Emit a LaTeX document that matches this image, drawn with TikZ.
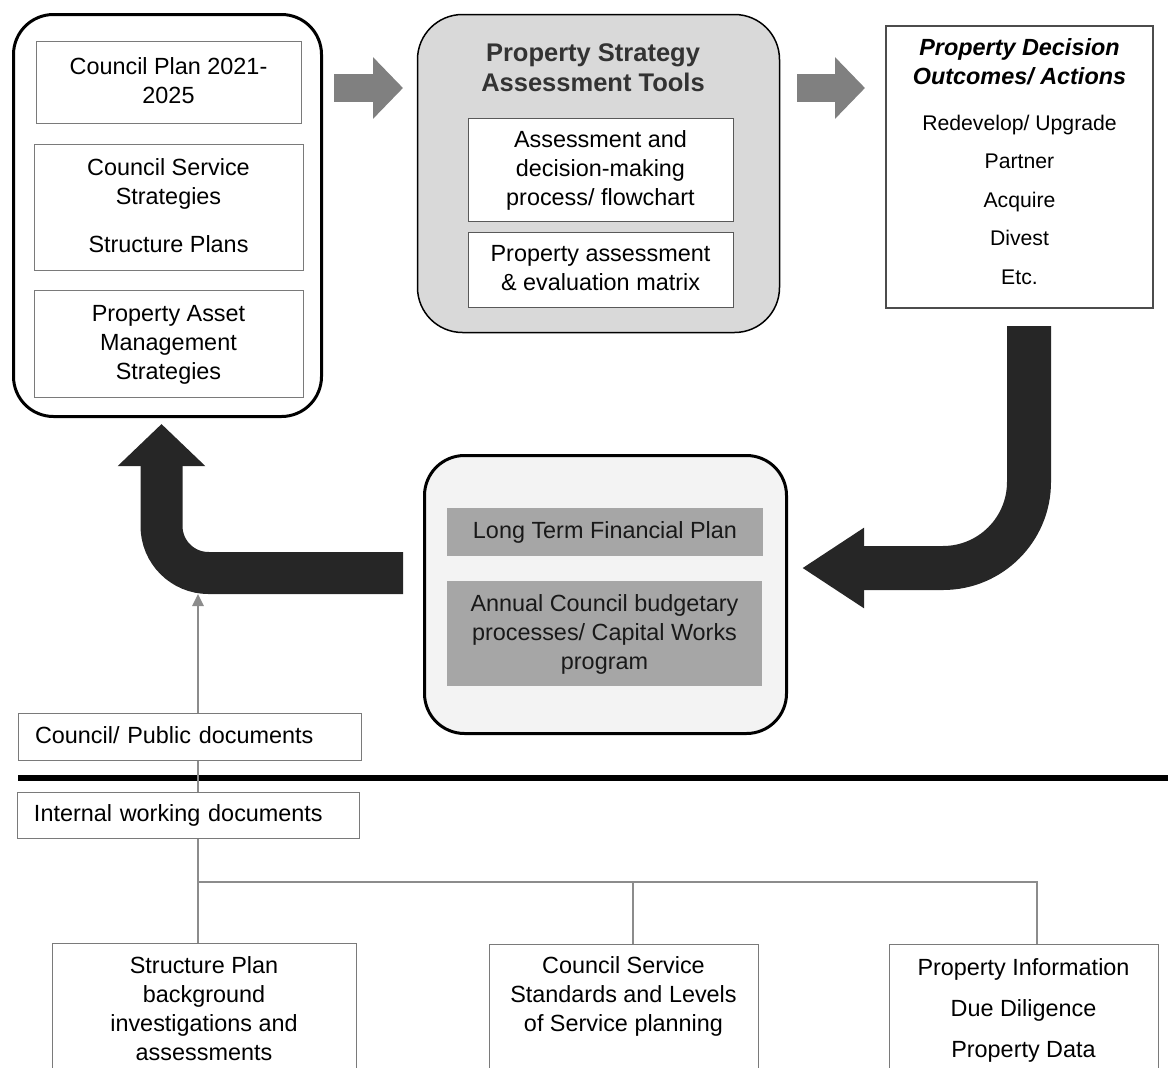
\documentclass[tikz,border=0pt]{standalone}
\usepackage{fontspec}
\setmainfont{Liberation Sans}
\usetikzlibrary{arrows.meta}
\definecolor{panelgray}{HTML}{D9D9D9}
\definecolor{palegray}{HTML}{F3F3F3}
\definecolor{midgray}{HTML}{A6A6A6}
\definecolor{arrowgray}{HTML}{808080}
\definecolor{darkfill}{HTML}{262626}
\definecolor{edgegray}{HTML}{7A7A7A}
\definecolor{linkgray}{HTML}{8C8C8C}
\definecolor{titlegray}{HTML}{333333}
\newcommand{\lnst}{\rule[-8pt]{0pt}{29pt}}
\begin{document}
\begin{tikzpicture}[x=1pt, y=-1pt,
    every node/.style={font=\fontsize{23.4}{29}\selectfont, inner sep=0pt, outer sep=0pt},
    panel/.style={draw=black, line width=3pt, rounded corners=40pt},
    listbox/.style={draw=edgegray, line width=1pt, fill=white, align=center},
    toolbox/.style={draw=black!65, line width=1pt, fill=white, align=center, minimum width=265pt},
    shadebox/.style={fill=midgray, text=black!90, align=center},
    docbox/.style={draw=edgegray, line width=1pt, fill=white},
    fatgray/.style={draw=arrowgray, line width=28pt, -{Triangle[length=30pt,width=60pt]}},
    fatblack/.style={draw=darkfill, line width=44pt},
    link/.style={draw=linkgray, line width=2.6pt}]
  \useasboundingbox (0,0) rectangle (1168,1068);
  \clip (0,0) rectangle (1168,1068);

  % plans and strategies
  \node[panel, fill=white, minimum width=308pt, minimum height=402pt] (plans) at (167.5,215.5) {};
  \node[listbox, minimum width=265pt, minimum height=82pt] (cplan) at (168.5,82) {\lnst Council Plan 2021-\\\lnst 2025};
  \node[listbox, minimum width=269pt, minimum height=126pt] (cstrat) at (168.5,207) {\lnst Council Service\\\lnst Strategies\\[19pt]\lnst Structure Plans};
  \node[listbox, minimum width=269pt, minimum height=107pt] (pams) at (168.5,343.5) {\lnst Property Asset\\\lnst Management\\\lnst Strategies};

  % assessment tools
  \node[draw=black, line width=1.5pt, rounded corners=45pt, fill=panelgray, minimum width=362pt, minimum height=318pt] (tools) at (598.5,173.5) {};
  \node[font=\fontsize{25.5}{30}\selectfont\bfseries, text=titlegray, align=center, anchor=north] (toolstitle) at (593,43.7) {Property Strategy\\Assessment Tools};
  \node[toolbox, minimum height=103pt] (flow) at (600.5,169.5) {\lnst Assessment and\\\lnst decision-making\\\lnst process/ flowchart};
  \node[toolbox, minimum height=75pt] (evalm) at (600.5,269.5) {\lnst Property assessment\\\lnst \& evaluation matrix};

  % outcomes
  \node[draw=black!70, line width=1.2pt, fill=white, minimum width=267pt, minimum height=282pt] (outcomes) at (1019.5,167) {};
  \node[font=\fontsize{23.4}{29}\selectfont\bfseries\itshape, align=center, anchor=north] (outtitle) at (1019.5,38.2) {Property Decision\\Outcomes/ Actions};
  \node[font=\fontsize{21.2}{38.5}\selectfont, align=center, anchor=north] (actions) at (1019.5,114.8) {Redevelop/ Upgrade\\Partner\\Acquire\\Divest\\Etc.};

  % budget
  \node[panel, fill=palegray, minimum width=362pt, minimum height=278pt] (budget) at (605.5,594.5) {};
  \node[shadebox, minimum width=316pt, minimum height=48pt] (ltfp) at (605,532) {\lnst Long Term Financial Plan};
  \node[shadebox, minimum width=315pt, minimum height=105pt] (annual) at (604.5,633.5) {\lnst Annual Council budgetary\\\lnst processes/ Capital Works\\\lnst program};

  % flow arrows
  \coordinate (g1a) at (334,88);
  \coordinate (g1b) at (403,88);
  \coordinate (g2a) at (797,88);
  \coordinate (g2b) at (865,88);
  \draw[fatgray] (g1a) -- (g1b);
  \draw[fatgray] (g2a) -- (g2b);
  \coordinate (downtop) at (1029,326);
  \coordinate (downtip) at (802,568);
  \draw[fatblack, rounded corners=86pt, -{Triangle[length=62pt,width=76pt]}] (downtop) |- (downtip);
  \coordinate (backstart) at (403,573);
  \coordinate (backtip) at (161.5,424);
  \draw[fatblack, line width=42pt, rounded corners=47pt, -{Triangle[length=42pt,width=85pt]}] (backstart) -| (backtip);

  % divider
  \draw[line width=6pt] (18,778) -- (1168,778);

  % working documents
  \node[docbox, minimum width=304pt, minimum height=160pt, anchor=north] (sbgbox) at (204,943) {};
  \node[anchor=north, align=center] (sbgtext) at (204,952) {\lnst Structure Plan\\\lnst background\\\lnst investigations and\\\lnst assessments};
  \node[docbox, minimum width=269pt, minimum height=160pt, anchor=north] (svcbox) at (623.5,944) {};
  \node[anchor=north, align=center] (svctext) at (623.5,952) {\lnst Council Service\\\lnst Standards and Levels\\\lnst of Service planning};
  \node[docbox, minimum width=269pt, minimum height=160pt, anchor=north] (infobox) at (1023.5,944) {};
  \node[anchor=north, align=center, font=\fontsize{23.4}{41}\selectfont] (infotext) at (1023.5,954) {\lnst Property Information\\\lnst Due Diligence\\\lnst Property Data};

  \coordinate (hub) at (198,882);
  \coordinate (feedin) at (198,594);
  \draw[link] ([xshift=-6pt]sbgbox.north) -- (hub) -| ([xshift=9.5pt]svcbox.north);
  \draw[link] (hub) -| ([xshift=13.5pt]infobox.north);
  \draw[link, -{Triangle[length=12pt,width=11pt]}] (hub) -- (feedin);

  \node[docbox, minimum width=343pt, minimum height=47pt, text width=309pt, align=left] (public) at (189.5,736.5) {\lnst Council/ Public documents};
  \node[docbox, minimum width=342pt, minimum height=46pt, text width=308pt, align=left] (internal) at (188,815) {\lnst Internal working documents};
\end{tikzpicture}
\end{document}
